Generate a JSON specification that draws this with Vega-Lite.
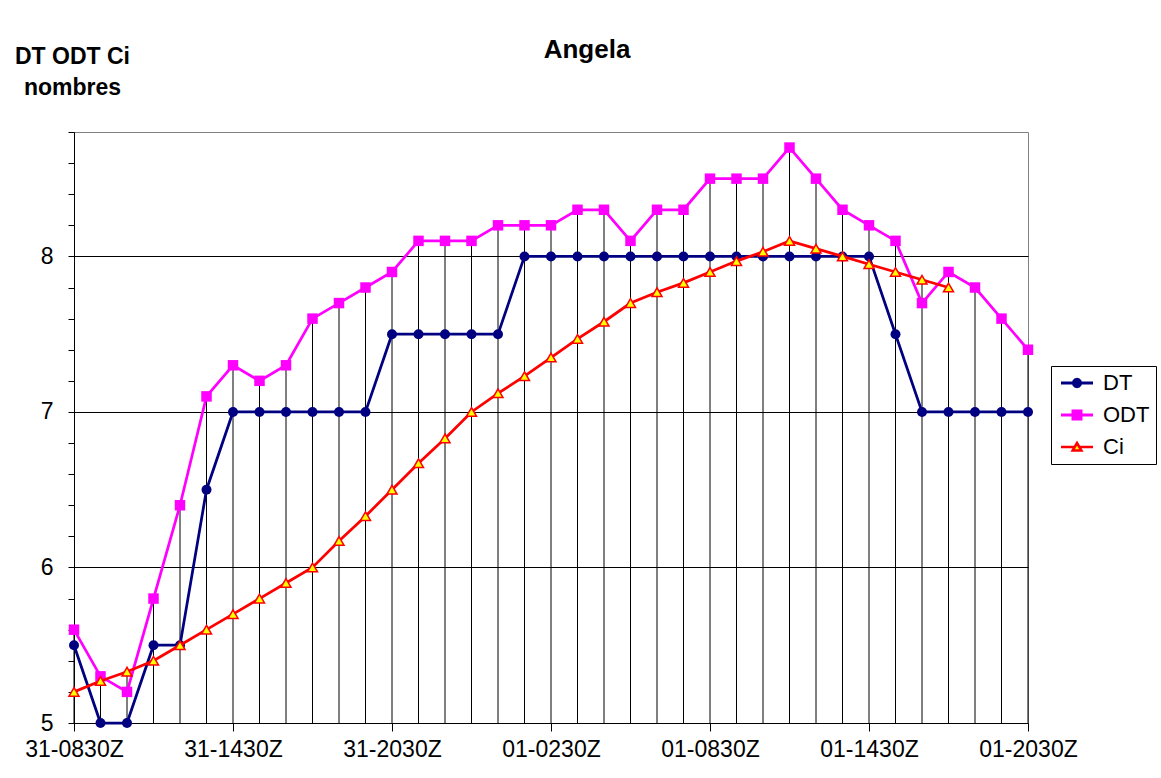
{
  "$schema": "https://vega.github.io/schema/vega-lite/v6.json",
  "autosize": "none",
  "width": 954,
  "height": 591,
  "padding": {"left": 74, "top": 132, "right": 133, "bottom": 55},
  "background": "#ffffff",
  "config": {
    "font": "Liberation Sans",
    "view": {"stroke": "#808080", "strokeWidth": 1}
  },
  "title": {
    "text": "Angela",
    "font": "Liberation Sans",
    "fontSize": 26,
    "fontWeight": "bold",
    "color": "#000000",
    "anchor": "middle",
    "frame": "group",
    "baseline": "alphabetic",
    "offset": 0,
    "dx": 36,
    "dy": 39
  },
  "data": {
    "values": [
      {"t": "31-0830Z", "s": "DT", "v": 5.5}, {"t": "31-0930Z", "s": "DT", "v": 5.0}, {"t": "31-1030Z", "s": "DT", "v": 5.0},
      {"t": "31-1130Z", "s": "DT", "v": 5.5}, {"t": "31-1230Z", "s": "DT", "v": 5.5}, {"t": "31-1330Z", "s": "DT", "v": 6.5},
      {"t": "31-1430Z", "s": "DT", "v": 7.0}, {"t": "31-1530Z", "s": "DT", "v": 7.0}, {"t": "31-1630Z", "s": "DT", "v": 7.0},
      {"t": "31-1730Z", "s": "DT", "v": 7.0}, {"t": "31-1830Z", "s": "DT", "v": 7.0}, {"t": "31-1930Z", "s": "DT", "v": 7.0},
      {"t": "31-2030Z", "s": "DT", "v": 7.5}, {"t": "31-2130Z", "s": "DT", "v": 7.5}, {"t": "31-2230Z", "s": "DT", "v": 7.5},
      {"t": "31-2330Z", "s": "DT", "v": 7.5}, {"t": "01-0030Z", "s": "DT", "v": 7.5}, {"t": "01-0130Z", "s": "DT", "v": 8.0},
      {"t": "01-0230Z", "s": "DT", "v": 8.0}, {"t": "01-0330Z", "s": "DT", "v": 8.0}, {"t": "01-0430Z", "s": "DT", "v": 8.0},
      {"t": "01-0530Z", "s": "DT", "v": 8.0}, {"t": "01-0630Z", "s": "DT", "v": 8.0}, {"t": "01-0730Z", "s": "DT", "v": 8.0},
      {"t": "01-0830Z", "s": "DT", "v": 8.0}, {"t": "01-0930Z", "s": "DT", "v": 8.0}, {"t": "01-1030Z", "s": "DT", "v": 8.0},
      {"t": "01-1130Z", "s": "DT", "v": 8.0}, {"t": "01-1230Z", "s": "DT", "v": 8.0}, {"t": "01-1330Z", "s": "DT", "v": 8.0},
      {"t": "01-1430Z", "s": "DT", "v": 8.0}, {"t": "01-1530Z", "s": "DT", "v": 7.5}, {"t": "01-1630Z", "s": "DT", "v": 7.0},
      {"t": "01-1730Z", "s": "DT", "v": 7.0}, {"t": "01-1830Z", "s": "DT", "v": 7.0}, {"t": "01-1930Z", "s": "DT", "v": 7.0},
      {"t": "01-2030Z", "s": "DT", "v": 7.0},

      {"t": "31-0830Z", "s": "ODT", "v": 5.6}, {"t": "31-0930Z", "s": "ODT", "v": 5.3}, {"t": "31-1030Z", "s": "ODT", "v": 5.2},
      {"t": "31-1130Z", "s": "ODT", "v": 5.8}, {"t": "31-1230Z", "s": "ODT", "v": 6.4}, {"t": "31-1330Z", "s": "ODT", "v": 7.1},
      {"t": "31-1430Z", "s": "ODT", "v": 7.3}, {"t": "31-1530Z", "s": "ODT", "v": 7.2}, {"t": "31-1630Z", "s": "ODT", "v": 7.3},
      {"t": "31-1730Z", "s": "ODT", "v": 7.6}, {"t": "31-1830Z", "s": "ODT", "v": 7.7}, {"t": "31-1930Z", "s": "ODT", "v": 7.8},
      {"t": "31-2030Z", "s": "ODT", "v": 7.9}, {"t": "31-2130Z", "s": "ODT", "v": 8.1}, {"t": "31-2230Z", "s": "ODT", "v": 8.1},
      {"t": "31-2330Z", "s": "ODT", "v": 8.1}, {"t": "01-0030Z", "s": "ODT", "v": 8.2}, {"t": "01-0130Z", "s": "ODT", "v": 8.2},
      {"t": "01-0230Z", "s": "ODT", "v": 8.2}, {"t": "01-0330Z", "s": "ODT", "v": 8.3}, {"t": "01-0430Z", "s": "ODT", "v": 8.3},
      {"t": "01-0530Z", "s": "ODT", "v": 8.1}, {"t": "01-0630Z", "s": "ODT", "v": 8.3}, {"t": "01-0730Z", "s": "ODT", "v": 8.3},
      {"t": "01-0830Z", "s": "ODT", "v": 8.5}, {"t": "01-0930Z", "s": "ODT", "v": 8.5}, {"t": "01-1030Z", "s": "ODT", "v": 8.5},
      {"t": "01-1130Z", "s": "ODT", "v": 8.7}, {"t": "01-1230Z", "s": "ODT", "v": 8.5}, {"t": "01-1330Z", "s": "ODT", "v": 8.3},
      {"t": "01-1430Z", "s": "ODT", "v": 8.2}, {"t": "01-1530Z", "s": "ODT", "v": 8.1}, {"t": "01-1630Z", "s": "ODT", "v": 7.7},
      {"t": "01-1730Z", "s": "ODT", "v": 7.9}, {"t": "01-1830Z", "s": "ODT", "v": 7.8}, {"t": "01-1930Z", "s": "ODT", "v": 7.6},
      {"t": "01-2030Z", "s": "ODT", "v": 7.4},

      {"t": "31-0830Z", "s": "Ci", "v": 5.2}, {"t": "31-0930Z", "s": "Ci", "v": 5.27}, {"t": "31-1030Z", "s": "Ci", "v": 5.33},
      {"t": "31-1130Z", "s": "Ci", "v": 5.4}, {"t": "31-1230Z", "s": "Ci", "v": 5.5}, {"t": "31-1330Z", "s": "Ci", "v": 5.6},
      {"t": "31-1430Z", "s": "Ci", "v": 5.7}, {"t": "31-1530Z", "s": "Ci", "v": 5.8}, {"t": "31-1630Z", "s": "Ci", "v": 5.9},
      {"t": "31-1730Z", "s": "Ci", "v": 6.0}, {"t": "31-1830Z", "s": "Ci", "v": 6.17}, {"t": "31-1930Z", "s": "Ci", "v": 6.33},
      {"t": "31-2030Z", "s": "Ci", "v": 6.5}, {"t": "31-2130Z", "s": "Ci", "v": 6.67}, {"t": "31-2230Z", "s": "Ci", "v": 6.83},
      {"t": "31-2330Z", "s": "Ci", "v": 7.0}, {"t": "01-0030Z", "s": "Ci", "v": 7.12}, {"t": "01-0130Z", "s": "Ci", "v": 7.23},
      {"t": "01-0230Z", "s": "Ci", "v": 7.35}, {"t": "01-0330Z", "s": "Ci", "v": 7.47}, {"t": "01-0430Z", "s": "Ci", "v": 7.58},
      {"t": "01-0530Z", "s": "Ci", "v": 7.7}, {"t": "01-0630Z", "s": "Ci", "v": 7.77}, {"t": "01-0730Z", "s": "Ci", "v": 7.83},
      {"t": "01-0830Z", "s": "Ci", "v": 7.9}, {"t": "01-0930Z", "s": "Ci", "v": 7.97}, {"t": "01-1030Z", "s": "Ci", "v": 8.03},
      {"t": "01-1130Z", "s": "Ci", "v": 8.1}, {"t": "01-1230Z", "s": "Ci", "v": 8.05}, {"t": "01-1330Z", "s": "Ci", "v": 8.0},
      {"t": "01-1430Z", "s": "Ci", "v": 7.95}, {"t": "01-1530Z", "s": "Ci", "v": 7.9}, {"t": "01-1630Z", "s": "Ci", "v": 7.85},
      {"t": "01-1730Z", "s": "Ci", "v": 7.8}
    ]
  },
  "encoding": {
    "x": {
      "field": "t",
      "type": "ordinal",
      "scale": {
        "type": "point",
        "padding": 0,
        "domain": ["31-0830Z","31-0930Z","31-1030Z","31-1130Z","31-1230Z","31-1330Z","31-1430Z","31-1530Z","31-1630Z","31-1730Z","31-1830Z","31-1930Z","31-2030Z","31-2130Z","31-2230Z","31-2330Z","01-0030Z","01-0130Z","01-0230Z","01-0330Z","01-0430Z","01-0530Z","01-0630Z","01-0730Z","01-0830Z","01-0930Z","01-1030Z","01-1130Z","01-1230Z","01-1330Z","01-1430Z","01-1530Z","01-1630Z","01-1730Z","01-1830Z","01-1930Z","01-2030Z"]
      },
      "axis": {
        "values": ["31-0830Z","31-1430Z","31-2030Z","01-0230Z","01-0830Z","01-1430Z","01-2030Z"],
        "title": null,
        "labelAngle": 0,
        "labelFont": "Liberation Sans",
        "labelFontSize": 23,
        "labelColor": "#000000",
        "labelPadding": 7,
        "labelOverlap": false,
        "labelFlush": false,
        "tickSize": 8,
        "tickColor": "#000000",
        "tickWidth": 1,
        "domainColor": "#000000",
        "domainWidth": 1,
        "grid": false
      }
    },
    "y": {
      "field": "v",
      "type": "quantitative",
      "scale": {"domain": [5, 8.8], "nice": false, "zero": false},
      "axis": {
        "values": [5, 5.2, 5.4, 5.6, 5.8, 6, 6.2, 6.4, 6.6, 6.8, 7, 7.2, 7.4, 7.6, 7.8, 8, 8.2, 8.4, 8.6, 8.8],
        "labelExpr": "datum.value % 1 === 0 ? format(datum.value, 'd') : ''",
        "labelFont": "Liberation Sans",
        "labelFontSize": 23,
        "labelColor": "#000000",
        "labelPadding": 15,
        "labelOverlap": false,
        "tickColor": "#000000",
        "tickSize": 6,
        "domainColor": "#000000",
        "grid": true,
        "gridColor": "#000000",
        "gridWidth": 1,
        "gridOpacity": {"condition": {"test": "datum.value % 1 === 0", "value": 1}, "value": 0},
        "title": ["DT ODT Ci", "nombres"],
        "titleFont": "Liberation Sans",
        "titleFontSize": 23,
        "titleFontWeight": "bold",
        "titleColor": "#000000",
        "titleAngle": 0,
        "titleAlign": "center",
        "titleBaseline": "alphabetic",
        "titleLineHeight": 31,
        "titleX": -2,
        "titleY": -69
      }
    }
  },
  "layer": [
    {
      "transform": [{"aggregate": [{"op": "max", "field": "v", "as": "v"}], "groupby": ["t"]}],
      "mark": {"type": "rule", "color": "#000000", "strokeWidth": 1},
      "encoding": {
        "y2": {"datum": 5}
      }
    },
    {
      "transform": [{"filter": "datum.s === 'DT'"}],
      "mark": {"type": "line", "strokeWidth": 2.75},
      "encoding": {
        "color": {
          "field": "s",
          "type": "nominal",
          "scale": {"domain": ["DT", "ODT", "Ci"], "range": ["#000080", "#FF00FF", "#FF0000"]},
          "legend": {
            "orient": "none",
            "legendX": 977,
            "legendY": 234,
            "title": null,
            "strokeColor": "#000000",
            "fillColor": "#ffffff",
            "padding": 6,
            "labelFont": "Liberation Sans",
            "labelFontSize": 22,
            "labelColor": "#000000",
            "symbolSize": 256,
            "symbolOffset": 9,
            "labelOffset": 15,
            "rowPadding": 10,
            "encode": {
              "symbols": {
                "update": {
                  "shape": {"signal": "datum.value === 'DT' ? 'M-2,0L2,0M0.45,0L0.39,0.23L0.23,0.39L0,0.45L-0.23,0.39L-0.39,0.23L-0.45,0L-0.39,-0.23L-0.23,-0.39L0,-0.45L0.23,-0.39L0.39,-0.23Z' : datum.value === 'ODT' ? 'M-2,0L2,0M-0.5,-0.5L0.5,-0.5L0.5,0.5L-0.5,0.5Z' : 'M-2,0L-0.29,0M0.29,0L2,0M0,-0.5L0.55,0.45L-0.55,0.45Z'"},
                  "fill": {"signal": "datum.value === 'Ci' ? '#FFFF00' : datum.value === 'DT' ? '#000080' : '#FF00FF'"},
                  "stroke": {"signal": "datum.value === 'Ci' ? '#FF0000' : datum.value === 'DT' ? '#000080' : '#FF00FF'"},
                  "strokeWidth": {"signal": "datum.value === 'Ci' ? 2.5 : 3"},
                  "size": {"value": 256},
                  "opacity": {"value": 1},
                  "fillOpacity": {"value": 1},
                  "strokeOpacity": {"value": 1}
                }
              }
            }
          }
        }
      }
    },
    {
      "transform": [{"filter": "datum.s === 'DT'"}],
      "mark": {"type": "point", "shape": "circle", "filled": true, "size": 100, "color": "#000080", "opacity": 1},
      "encoding": {}
    },
    {
      "transform": [{"filter": "datum.s === 'ODT'"}],
      "mark": {"type": "line", "strokeWidth": 2.75},
      "encoding": {
        "color": {"field": "s", "type": "nominal", "scale": {"domain": ["DT", "ODT", "Ci"], "range": ["#000080", "#FF00FF", "#FF0000"]}}
      }
    },
    {
      "transform": [{"filter": "datum.s === 'ODT'"}],
      "mark": {"type": "point", "shape": "square", "filled": true, "size": 110, "color": "#FF00FF", "opacity": 1},
      "encoding": {}
    },
    {
      "transform": [{"filter": "datum.s === 'Ci'"}],
      "mark": {"type": "line", "strokeWidth": 2.75},
      "encoding": {
        "color": {"field": "s", "type": "nominal", "scale": {"domain": ["DT", "ODT", "Ci"], "range": ["#000080", "#FF00FF", "#FF0000"]}}
      }
    },
    {
      "transform": [{"filter": "datum.s === 'Ci'"}],
      "mark": {"type": "point", "shape": "triangle-up", "filled": true, "size": 100, "fill": "#FFFF00", "stroke": "#FF0000", "strokeWidth": 1.5, "opacity": 1},
      "encoding": {}
    }
  ]
}
